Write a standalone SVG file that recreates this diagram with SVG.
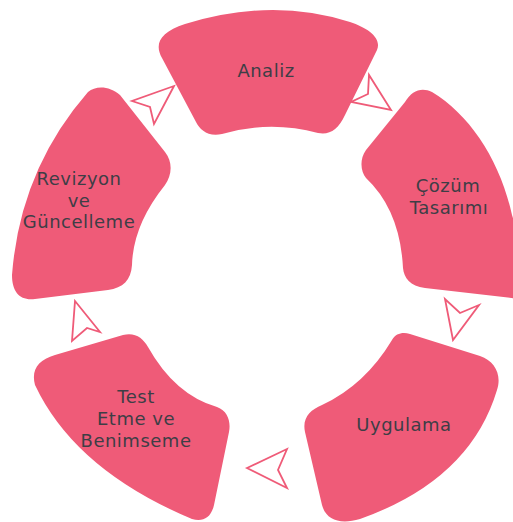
<svg xmlns="http://www.w3.org/2000/svg" width="513" height="522" viewBox="0 0 513 522">
  <style>
    .seg { fill: #ef5b78; }
    .lbl { font-family: "DejaVu Sans", "Open Sans", sans-serif; font-size: 18px; letter-spacing: 0.5px; fill: #3e3e46; text-anchor: middle; }
    .arrow { fill: #ffffff; stroke: #ef5b78; stroke-width: 1.8; stroke-linejoin: miter; }
  </style>
  <rect width="513" height="522" fill="#ffffff"/>

  <g id="analiz">
    <path class="seg" d="M 185,24 Q 272,-3 350,22 C 368,28 382,38 377,50 L 345,115 C 338,130 330,135 318,133 Q 270,120 222,134 C 208,137 200,130 196,122 L 162,58 C 154,44 160,32 185,24 Z"/>
    <text class="lbl" x="266" y="77">Analiz</text>
  </g>

  <g id="cozum-tasarimi">
    <path class="seg" d="M 366,150 L 405,102 C 412,90 422,87 432,92 C 470,115 500,160 512,215 L 520,240 L 520,299 L 425,288 C 410,286 404,278 403,268 Q 400,210 366,178 C 361,172 359,160 366,150 Z"/>
    <text class="lbl" x="448" y="192">Çözüm</text>
    <text class="lbl" x="449" y="213.5">Tasarımı</text>
  </g>

  <g id="uygulama">
    <path class="seg" d="M 392,340 C 396,333 403,332 410,334 L 480,356 C 495,361 502,375 497,390 Q 470,480 360,519 C 340,525 326,520 322,505 L 305,432 C 302,418 310,410 322,405 Q 365,385 392,340 Z"/>
    <text class="lbl" x="404" y="431">Uygulama</text>
  </g>

  <g id="test-etme">
    <path class="seg" d="M 55,355 L 123,335 C 135,332 143,338 148,347 Q 175,395 217,407 C 228,411 231,422 229,432 L 214,505 C 211,518 203,522 192,519 Q 75,470 35,385 C 31,370 38,360 55,355 Z"/>
    <text class="lbl" x="136" y="403">Test</text>
    <text class="lbl" x="136" y="424.5">Etme ve</text>
    <text class="lbl" x="136" y="446.5">Benimseme</text>
  </g>

  <g id="revizyon">
    <path class="seg" d="M 88,92 C 96,85 110,86 120,95 L 165,152 C 173,162 172,175 165,185 Q 133,225 132,265 C 131,280 123,288 108,290 L 35,299 C 20,301 12,292 12,275 Q 20,170 88,92 Z"/>
    <text class="lbl" x="79" y="185">Revizyon</text>
    <text class="lbl" x="79" y="206.5">ve</text>
    <text class="lbl" x="79" y="228">Güncelleme</text>
  </g>

  <g id="connectors">
    <polygon class="arrow" points="174,86 132,101 150,107 154,124"/>
    <polygon class="arrow" points="391,110 369,75 368,94 351,102"/>
    <polygon class="arrow" points="453,340 445,299 460,313 479,305"/>
    <polygon class="arrow" points="247,468 287,449 278,470 287,488"/>
    <polygon class="arrow" points="75,301 72,341 87,328 100,332"/>
  </g>
</svg>
